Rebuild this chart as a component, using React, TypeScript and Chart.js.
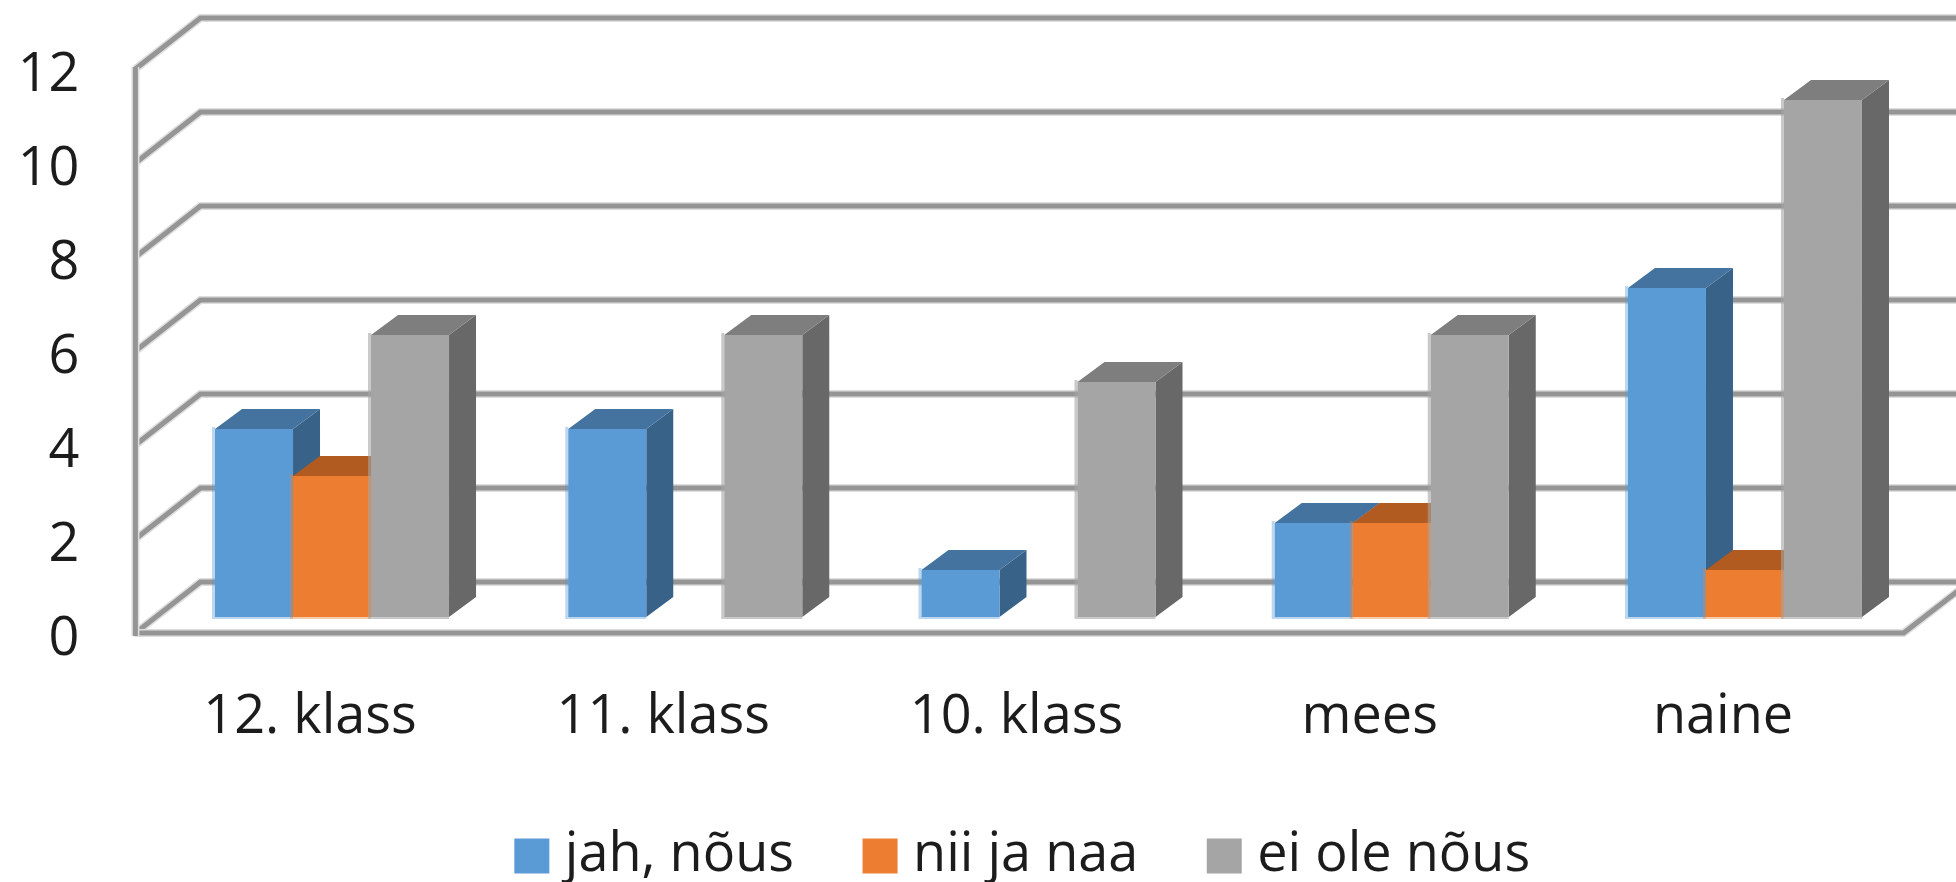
import React, { useEffect, useRef } from "react";
import { Chart, registerables } from "chart.js";

Chart.register(...registerables);

const categories = ["12. klass", "11. klass", "10. klass", "mees", "naine"];
const jahNous = [4, 4, 1, 2, 7];
const niiJaNaa = [3, 0, 0, 2, 1];
const eiOleNous = [6, 6, 5, 6, 11];
const seriesNames = ["jah, nõus", "nii ja naa", "ei ole nõus"];
const yTicks = [0, 2, 4, 6, 8, 10, 12];

const frontColors = ["#5B9BD5", "#ED7D31", "#A5A5A5"];
const sideColors = ["#386288", "#AF5A1F", "#686868"];
const topColors = ["#44739F", "#B25B20", "#7E7E7E"];
const edgeColors = ["rgba(91,155,213,0.4)", "rgba(237,125,49,0.4)", "rgba(165,165,165,0.6)"];

const FONT = "'Open Sans', sans-serif";
const BAR_DX = 27;
const BAR_DY = 20;
const WALL_BACK_DX = 66; // front axis -> back wall
const FRONT_DY = 16; // bar plane -> floor front edge
const BACK_DY = 35; // bar plane -> back wall

function poly(ctx: CanvasRenderingContext2D, pts: number[][], fill: string) {
  ctx.beginPath();
  pts.forEach(([x, y], i) => (i ? ctx.lineTo(x, y) : ctx.moveTo(x, y)));
  ctx.closePath();
  ctx.fillStyle = fill;
  ctx.fill();
}

function gridStroke(ctx: CanvasRenderingContext2D, pts: number[][]) {
  const path = () => {
    ctx.beginPath();
    pts.forEach(([x, y], i) => (i ? ctx.lineTo(x, y) : ctx.moveTo(x, y)));
  };
  ctx.lineJoin = "miter";
  ctx.lineCap = "butt";
  path();
  ctx.strokeStyle = "#dedede";
  ctx.lineWidth = 8;
  ctx.stroke();
  path();
  ctx.strokeStyle = "#959595";
  ctx.lineWidth = 5;
  ctx.stroke();
}

const box3d = {
  id: "box3d",
  beforeDraw(chart: any) {
    // the legend sits lower and further right than the box layout would put it
    const lg = chart.legend;
    lg.top = 749;
    lg.bottom = chart.height;
    lg.left = 75;
    lg.right = 1981;
  },
  beforeDatasetsDraw(chart: any) {
    const ctx: CanvasRenderingContext2D = chart.ctx;
    const y = chart.scales.y;
    const axisX = chart.chartArea.left - 21;
    const backX = axisX + WALL_BACK_DX;
    const width = chart.width;
    const y0 = y.getPixelForValue(0);
    ctx.save();
    // back-wall gridlines with their diagonal on the side wall
    y.ticks.forEach((t: any) => {
      if (t.value === 0) return;
      const py = y.getPixelForValue(t.value);
      gridStroke(ctx, [
        [axisX + 1, py + FRONT_DY],
        [backX, py - BACK_DY],
        [width + 5, py - BACK_DY],
      ]);
    });
    gridStroke(ctx, [
      [axisX + 1, y0 + FRONT_DY],
      [backX, y0 - BACK_DY],
      [width + 5, y0 - BACK_DY],
    ]);
    // floor front edge and right diagonal
    const floorRight = chart.chartArea.right - 18;
    gridStroke(ctx, [
      [axisX, y0 + FRONT_DY],
      [floorRight, y0 + FRONT_DY],
      [floorRight + 66, y0 - BACK_DY],
    ]);
    // value axis
    gridStroke(ctx, [
      [axisX + 1, y.getPixelForValue(12) + FRONT_DY - 2],
      [axisX + 1, y0 + FRONT_DY + 3],
    ]);
    // depth faces of the bars, left to right
    const n = chart.data.labels.length;
    for (let i = 0; i < n; i++) {
      chart.data.datasets.forEach((_: any, d: number) => {
        const bar = chart.getDatasetMeta(d).data[i];
        if (!chart.data.datasets[d].data[i]) return;
        const l = bar.x - bar.width / 2;
        const r = bar.x + bar.width / 2;
        const t = bar.y;
        const b = bar.base;
        poly(ctx, [[r, t], [r + BAR_DX, t - BAR_DY], [r + BAR_DX, b - BAR_DY], [r, b]], sideColors[d]);
        poly(ctx, [[l, t], [l + BAR_DX, t - BAR_DY], [r + BAR_DX, t - BAR_DY], [r, t]], topColors[d]);
      });
    }
    ctx.restore();
  },
  afterDatasetsDraw(chart: any) {
    const ctx: CanvasRenderingContext2D = chart.ctx;
    ctx.save();
    chart.data.datasets.forEach((ds: any, d: number) => {
      chart.getDatasetMeta(d).data.forEach((bar: any, i: number) => {
        if (!ds.data[i]) return;
        const l = bar.x - bar.width / 2;
        ctx.fillStyle = edgeColors[d];
        ctx.fillRect(l - 3, bar.y - 2, 3, bar.base - bar.y + 4);
        ctx.fillRect(l, bar.base - 1, bar.width, 3);
      });
    });
    ctx.restore();
  },
};

export default function App() {
  const ref = useRef<HTMLCanvasElement>(null);
  useEffect(() => {
    const values = [jahNous, niiJaNaa, eiOleNous];
    const chart = new Chart(ref.current!, {
      type: "bar",
      data: {
        labels: categories,
        datasets: seriesNames.map((label, d) => ({
          label,
          data: values[d],
          backgroundColor: frontColors[d],
          borderWidth: 0,
          categoryPercentage: 0.6625,
          barPercentage: 1,
        })),
      },
      plugins: [box3d],
      options: {
        animation: false,
        responsive: false,
        layout: { padding: { left: 0, right: 34.4, top: 53, bottom: 0 } },
        plugins: {
          tooltip: { enabled: false },
          legend: {
            position: "bottom",
            maxHeight: 60,
            labels: {
              usePointStyle: true,
              pointStyle: "rect",
              boxWidth: 12,
              boxHeight: 35,
              padding: 80,
              color: "#1c1c1c",
              font: { family: FONT, size: 54 },
            },
          },
        },
        scales: {
          x: {
            type: "category",
            grid: { display: false, drawTicks: false },
            border: { display: false },
            afterFit: (s: any) => {
              s.height = 205;
            },
            ticks: {
              color: "#1c1c1c",
              font: { family: FONT, size: 54 },
              padding: 68,
              labelOffset: -22,
              maxRotation: 0,
              autoSkip: false,
            },
          },
          y: {
            min: 0,
            max: 12,
            grid: { display: false, drawTicks: false },
            border: { display: false },
            afterFit: (s: any) => {
              s.width = 155.4;
              s.paddingTop = 0;
              s.paddingBottom = 0;
            },
            afterBuildTicks: (s: any) => {
              s.ticks = yTicks.map((value) => ({ value }));
            },
            ticks: {
              color: "#1c1c1c",
              font: { family: FONT, size: 54 },
              padding: 76,
              labelOffset: 23,
            },
          },
        },
      },
    } as any);
    return () => chart.destroy();
  }, []);
  return (
    <div style={{ position: "absolute", left: 0, top: 0, width: 1956, height: 882, background: "#fff", overflow: "hidden" }}>
      <canvas ref={ref} width={1956} height={882} style={{ display: "block" }} />
    </div>
  );
}
